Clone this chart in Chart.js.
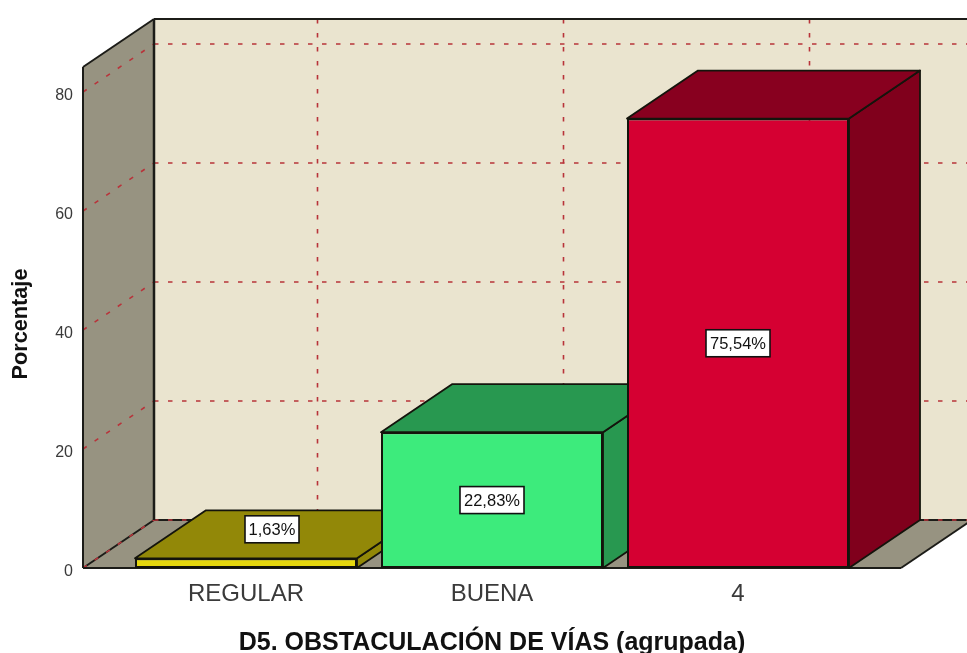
<!DOCTYPE html>
<html>
<head>
<meta charset="utf-8">
<style>html,body{margin:0;padding:0;background:#fff}canvas{display:block}</style>
<script src="https://cdn.jsdelivr.net/npm/chart.js@4/dist/chart.umd.min.js"></script>
</head>
<body>
<canvas id="c" width="967" height="653"></canvas>
<script>
const categories = ['REGULAR', 'BUENA', '4'];
const percentages = [1.63, 22.83, 75.54];
const frontColors = ['#e6d80f', '#3deb7c', '#d50032'];
const topColors = ['#928808', '#289850', '#88001f'];
const sideColors = ['#928808', '#289850', '#80001c'];
const yTicks = [0, 20, 40, 60, 80];
const xTitle = 'D5. OBSTACULACIÓN DE VÍAS (agrupada)';
const yTitle = 'Porcentaje';

const DX = 71, DY = 48, FRAME = 40, FONT = '"Liberation Sans", Arial, sans-serif';
const WALL = '#eae4cf', SIDE = '#979381', LINE = '#1c1c18', GRID = '#b8333a';

function poly(ctx, pts, fill, stroke, w) {
  ctx.beginPath();
  pts.forEach((p, i) => i ? ctx.lineTo(p[0], p[1]) : ctx.moveTo(p[0], p[1]));
  ctx.closePath();
  if (fill) { ctx.fillStyle = fill; ctx.fill(); }
  if (stroke) { ctx.strokeStyle = stroke; ctx.lineWidth = w || 1.5; ctx.lineJoin = 'round'; ctx.stroke(); }
}
function seg(ctx, x0, y0, x1, y1, color, w, dash) {
  ctx.save();
  ctx.beginPath(); ctx.moveTo(x0, y0); ctx.lineTo(x1, y1);
  ctx.strokeStyle = color; ctx.lineWidth = w; ctx.setLineDash(dash || []); ctx.stroke();
  ctx.restore();
}

const box3d = {
  id: 'box3d',
  beforeDatasetsDraw(chart) {
    const ctx = chart.ctx, a = chart.chartArea, x = chart.scales.x, y = chart.scales.y;
    const L = a.left - FRAME, R = a.right + FRAME, T = a.top, B = a.bottom;
    ctx.save();
    // back wall, side wall, floor
    ctx.fillStyle = WALL; ctx.fillRect(L + DX, T - DY, chart.width, B - T);
    poly(ctx, [[L, T], [L + DX, T - DY], [L + DX, B - DY], [L, B]], SIDE);
    poly(ctx, [[L, B], [L + DX, B - DY], [R + DX, B - DY], [R, B]], SIDE);
    // grid lines
    const dash = [4.5, 9.5];
    yTicks.forEach(v => {
      const p = y.getPixelForValue(v);
      if (v === 0) {
        seg(ctx, L, p, L + DX, p - DY, LINE, 2);
        seg(ctx, L + DX, p - DY, R + DX, p - DY, LINE, 2);
      }
      seg(ctx, L, p, L + DX, p - DY, GRID, 1.6, dash);
      seg(ctx, L + DX, p - DY, chart.width, p - DY, GRID, 1.6, dash);
    });
    categories.forEach((c, i) => {
      const p = x.getPixelForValue(i) + DX + 0.5;
      seg(ctx, p, T - DY, p, B - DY, GRID, 1.6, dash);
    });
    // frame
    seg(ctx, L + DX, T - DY, chart.width, T - DY, LINE, 2);
    seg(ctx, L, T, L + DX, T - DY, LINE, 2);
    seg(ctx, L, T, L, B, LINE, 2);
    seg(ctx, L + DX, T - DY, L + DX, B - DY, LINE, 2.5);
    seg(ctx, L, B, R, B, LINE, 2);
    seg(ctx, R, B, R + DX, B - DY, LINE, 2);
    // bar depth faces
    chart.getDatasetMeta(0).data.forEach((bar, i) => {
      const l = bar.x - bar.width / 2, r = bar.x + bar.width / 2, t = bar.y, b = bar.base;
      poly(ctx, [[r, t], [r + DX, t - DY], [r + DX, b - DY], [r, b]], sideColors[i], '#14140c', 1.8);
      poly(ctx, [[l, t], [l + DX, t - DY], [r + DX, t - DY], [r, t]], topColors[i], '#14140c', 1.8);
    });
    ctx.restore();
  },
  afterDatasetsDraw(chart) {
    const ctx = chart.ctx;
    ctx.save();
    // value labels
    ctx.font = '16.5px ' + FONT;
    ctx.textAlign = 'center'; ctx.textBaseline = 'middle';
    chart.getDatasetMeta(0).data.forEach((bar, i) => {
      const h = bar.base - bar.y, W = 54 + (percentages[i] >= 10 ? 10 : 0), H = 27;
      let cx = bar.x, cy = bar.y + h / 2;
      if (h < H) { cx += 26; cy = bar.y - 29; }
      ctx.fillStyle = '#fff'; ctx.fillRect(cx - W / 2, cy - H / 2, W, H);
      ctx.strokeStyle = '#111'; ctx.lineWidth = 1.6; ctx.strokeRect(cx - W / 2, cy - H / 2, W, H);
      ctx.fillStyle = '#111';
      ctx.fillText(percentages[i].toFixed(2).replace('.', ',') + '%', cx, cy + 1);
    });
    // value-axis title
    ctx.font = 'bold 21.7px ' + FONT;
    ctx.fillStyle = '#111';
    ctx.translate(21, 324);
    ctx.rotate(-Math.PI / 2);
    ctx.fillText(yTitle, 0, 0);
    ctx.restore();
  }
};

new Chart(document.getElementById('c'), {
  type: 'bar',
  data: {
    labels: categories,
    datasets: [{
      data: percentages,
      backgroundColor: frontColors,
      borderColor: '#14140c',
      borderWidth: 2,
      borderSkipped: false,
      categoryPercentage: 1,
      barPercentage: 222 / 246,
      clip: false
    }]
  },
  plugins: [box3d],
  options: {
    responsive: false,
    animation: false,
    layout: { padding: { top: 67, right: 106, bottom: 0, left: 0 } },
    plugins: { legend: { display: false }, tooltip: { enabled: false } },
    scales: {
      x: {
        afterFit(s) { s.height = 85; },
        grid: { display: false, drawTicks: false },
        border: { display: false },
        ticks: { color: '#3a3a3a', padding: 12, maxRotation: 0, font: { family: FONT, size: 24 } },
        title: { display: true, text: xTitle, color: '#111', padding: { top: 0, bottom: -5 },
                 font: { family: FONT, size: 25, weight: 'bold' } }
      },
      y: {
        min: 0, max: 84.2,
        afterFit(s) { s.width = 123; },
        grid: { display: false, drawTicks: false },
        border: { display: false },
        ticks: { color: '#3a3a3a', padding: 50, stepSize: 20, includeBounds: false, labelOffset: 4, font: { family: FONT, size: 16 } },
        title: { display: false }
      }
    }
  }
});
</script>
</body>
</html>
